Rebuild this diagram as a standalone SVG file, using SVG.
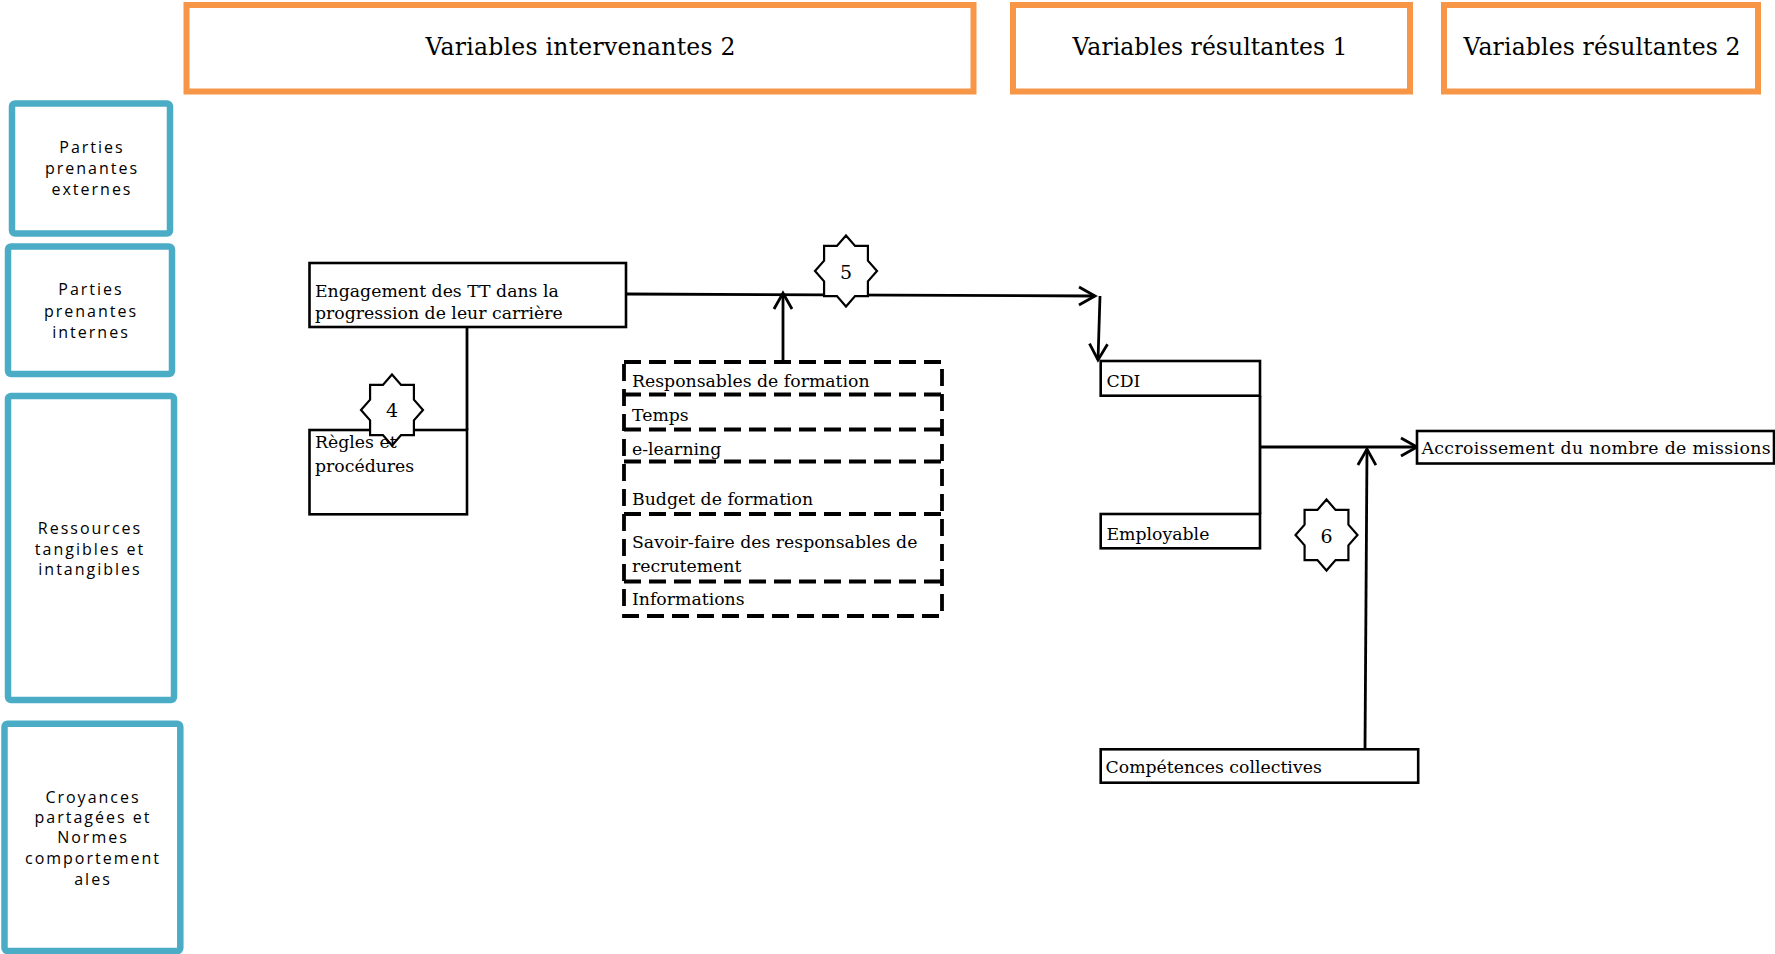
<svg xmlns="http://www.w3.org/2000/svg" xmlns:xlink="http://www.w3.org/1999/xlink" width="1775" height="954" viewBox="0 0 1775 954">
<style>
.hdr{fill:#fff;stroke:#F79646;stroke-width:6}
.hdrt{font-family:"DejaVu Serif","Liberation Serif",serif;font-size:23.5px;fill:#000;text-anchor:middle}
.blue{fill:#fff;stroke:#4BACC6;stroke-width:6.5}
.bt{font-family:"Open Sans","Liberation Sans",sans-serif;font-size:16px;letter-spacing:2px;fill:#000;text-anchor:middle}
.box{fill:#fff;stroke:#000;stroke-width:2.6}
.t{font-family:"DejaVu Serif","Liberation Serif",serif;font-size:17.3px;fill:#000}
.num{font-family:"DejaVu Serif","Liberation Serif",serif;font-size:19px;fill:#000;text-anchor:middle}
.star{fill:#fff;stroke:#000;stroke-width:2.2;stroke-linejoin:miter}
.dash{fill:none;stroke:#000;stroke-width:3.8;stroke-dasharray:17 8}
.con{fill:none;stroke:#000;stroke-width:2.8}
</style>
<defs>
<marker id="arr" markerUnits="userSpaceOnUse" viewBox="-20 -12 24 24" markerWidth="24" markerHeight="24" refX="0" refY="0" orient="auto">
<path d="M-16,-9 L0,0 L-16,9" fill="none" stroke="#000" stroke-width="2.8"/>
</marker>
<polygon id="star8" points="0,-35.5 9.08,-25.09 21.92,-25.1 21.91,-10.39 31,0 21.91,10.39 21.92,25.1 9.08,25.09 0,35.5 -9.08,25.09 -21.92,25.1 -21.91,10.39 -31,0 -21.91,-10.39 -21.92,-25.1 -9.08,-25.09"/>
</defs>

<g id="header-intervenantes2">
<rect class="hdr" x="186.5" y="5" width="787" height="86.5"/>
<text class="hdrt" x="580.5" y="55" textLength="310">Variables intervenantes 2</text>
</g>
<g id="header-resultantes1">
<rect class="hdr" x="1013" y="5" width="397" height="86.5"/>
<text class="hdrt" x="1210" y="55" textLength="275">Variables résultantes 1</text>
</g>
<g id="header-resultantes2">
<rect class="hdr" x="1444" y="5" width="314" height="86.5"/>
<text class="hdrt" x="1602" y="55" textLength="277">Variables résultantes 2</text>
</g>

<g id="side-externes">
<rect class="blue" x="12" y="103.5" width="158" height="130" rx="3"/>
<text class="bt" x="92" y="153.3">Parties</text>
<text class="bt" x="92" y="174.3">prenantes</text>
<text class="bt" x="92" y="195">externes</text>
</g>
<g id="side-internes">
<rect class="blue" x="8" y="246.5" width="164" height="127.5" rx="3"/>
<text class="bt" x="91" y="295">Parties</text>
<text class="bt" x="91" y="316.7">prenantes</text>
<text class="bt" x="91" y="337.7">internes</text>
</g>
<g id="side-ressources">
<rect class="blue" x="8" y="396" width="166" height="304" rx="3"/>
<text class="bt" x="90" y="534">Ressources</text>
<text class="bt" x="90" y="555">tangibles et</text>
<text class="bt" x="90" y="575">intangibles</text>
</g>
<g id="side-croyances">
<rect class="blue" x="4.5" y="723.7" width="175.8" height="227.3" rx="3"/>
<text class="bt" x="93" y="803.3">Croyances</text>
<text class="bt" x="93" y="823.3">partagées et</text>
<text class="bt" x="93" y="843.3">Normes</text>
<text class="bt" x="93" y="864.3">comportement</text>
<text class="bt" x="93" y="885">ales</text>
</g>

<g id="connectors">
<path class="con" d="M626,294 L1095,296" marker-end="url(#arr)"/>
<path class="con" d="M1100,296 L1098,360" marker-end="url(#arr)"/>
<path class="con" d="M783,361 L783,293" marker-end="url(#arr)"/>
<path class="con" d="M467,327 L467,430"/>
<path class="con" d="M1260,396 L1260,514"/>
<path class="con" d="M1260,447 L1417,447" marker-end="url(#arr)"/>
<path class="con" d="M1365,749 L1367,449" marker-end="url(#arr)"/>
</g>

<g id="node-engagement">
<rect class="box" x="309.5" y="263" width="316.5" height="64"/>
<text class="t" x="315" y="296.7">Engagement des TT dans la</text>
<text class="t" x="315" y="319">progression de leur carrière</text>
</g>

<g id="node-regles">
<rect class="box" x="309.5" y="430" width="157.5" height="84.3"/>
</g>
<g id="star-4">
<use href="#star8" xlink:href="#star8" class="star" x="392" y="410"/>
<text class="num" x="392" y="417">4</text>
</g>
<g id="node-regles-text">
<text class="t" x="315" y="448">Règles et</text>
<text class="t" x="315" y="471.5">procédures</text>
</g>

<g id="star-5">
<use href="#star8" xlink:href="#star8" class="star" x="846" y="271"/>
<text class="num" x="846" y="279">5</text>
</g>

<g id="node-ressources-formation">
<rect class="dash" x="624" y="362" width="318" height="254"/>
<line class="dash" x1="624" y1="394.5" x2="942" y2="394.5"/>
<line class="dash" x1="624" y1="429.5" x2="942" y2="429.5"/>
<line class="dash" x1="624" y1="461.5" x2="942" y2="461.5"/>
<line class="dash" x1="624" y1="514" x2="942" y2="514"/>
<line class="dash" x1="624" y1="581.5" x2="942" y2="581.5"/>
<text class="t" x="632" y="386.7">Responsables de formation</text>
<text class="t" x="632" y="420.7">Temps</text>
<text class="t" x="632" y="455">e-learning</text>
<text class="t" x="632" y="505">Budget de formation</text>
<text class="t" x="632" y="548.3">Savoir-faire des responsables de</text>
<text class="t" x="632" y="571.7">recrutement</text>
<text class="t" x="632" y="605">Informations</text>
</g>

<g id="node-cdi">
<rect class="box" x="1100.7" y="361" width="159.3" height="34.7"/>
<text class="t" x="1106.5" y="386.7">CDI</text>
</g>
<g id="node-employable">
<rect class="box" x="1100.7" y="514" width="159.3" height="34.3"/>
<text class="t" x="1106.5" y="540">Employable</text>
</g>

<g id="star-6">
<use href="#star8" xlink:href="#star8" class="star" x="1326.5" y="535"/>
<text class="num" x="1326.5" y="543">6</text>
</g>

<g id="node-accroissement">
<rect class="box" x="1417" y="431" width="357" height="32.5"/>
<text class="t" x="1421.5" y="454" textLength="349">Accroissement du nombre de missions</text>
</g>

<g id="node-competences">
<rect class="box" x="1100.7" y="749.3" width="317.5" height="33.4"/>
<text class="t" x="1105.5" y="773.3">Compétences collectives</text>
</g>
</svg>
